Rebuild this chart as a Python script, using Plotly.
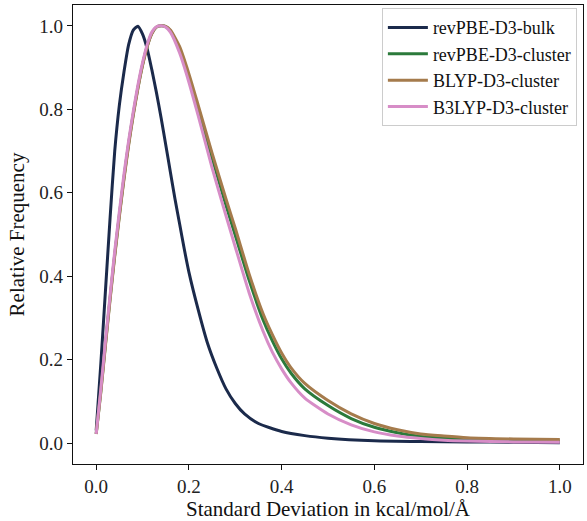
import plotly.graph_objects as go

# ---- data ----
x_bulk = [0.0, 0.01, 0.02, 0.03, 0.04, 0.05, 0.06, 0.07, 0.08, 0.09, 0.10, 0.11, 0.12, 0.13,
          0.14, 0.15, 0.16, 0.17, 0.18, 0.19, 0.20, 0.22, 0.24, 0.26, 0.28, 0.30, 0.32, 0.35, 0.40,
          0.45, 0.50, 0.60, 0.70, 0.80, 0.90, 1.00]
y_bulk = [0.03, 0.19, 0.365, 0.54, 0.70, 0.81, 0.89, 0.955, 0.99, 0.999, 0.98, 0.945, 0.895, 0.84,
          0.78, 0.715, 0.65, 0.585, 0.525, 0.465, 0.41, 0.32, 0.24, 0.18, 0.13, 0.095, 0.07, 0.047, 0.028,
          0.018, 0.012, 0.006, 0.004, 0.003, 0.002, 0.001]

x_clu = [0.0, 0.01, 0.02, 0.03, 0.04, 0.05, 0.06, 0.07, 0.08, 0.09, 0.10, 0.11, 0.12, 0.13,
         0.14, 0.15, 0.16, 0.18, 0.20, 0.22, 0.25, 0.28, 0.30, 0.33, 0.36, 0.38, 0.40, 0.42, 0.45,
         0.50, 0.55, 0.60, 0.65, 0.70, 0.75, 0.80, 0.90, 1.00]
y_revpbe_cluster = [0.022, 0.125, 0.238, 0.348, 0.452, 0.547, 0.637, 0.718, 0.789, 0.852, 0.907, 0.951, 0.982, 0.997,
                    1.0, 0.998, 0.988, 0.945, 0.878, 0.80, 0.683, 0.57, 0.498, 0.39, 0.295, 0.245, 0.202, 0.168, 0.13,
                    0.09, 0.059, 0.038, 0.025, 0.016, 0.012, 0.009, 0.006, 0.005]
y_blyp_cluster = [0.022, 0.122, 0.234, 0.344, 0.448, 0.543, 0.633, 0.714, 0.786, 0.85, 0.905, 0.95, 0.981, 0.997,
                  1.0, 0.999, 0.99, 0.95, 0.885, 0.81, 0.695, 0.585, 0.515, 0.405, 0.31, 0.26, 0.216, 0.181, 0.143,
                  0.102, 0.07, 0.047, 0.032, 0.022, 0.017, 0.013, 0.010, 0.009]
y_b3lyp_cluster = [0.022, 0.13, 0.245, 0.355, 0.46, 0.555, 0.645, 0.725, 0.795, 0.858, 0.912, 0.955, 0.985, 0.998,
                   1.0, 0.997, 0.985, 0.935, 0.865, 0.785, 0.66, 0.545, 0.47, 0.36, 0.268, 0.218, 0.178, 0.145, 0.108,
                   0.07, 0.044, 0.027, 0.017, 0.011, 0.007, 0.005, 0.003, 0.002]

names = ["revPBE-D3-bulk", "revPBE-D3-cluster", "BLYP-D3-cluster", "B3LYP-D3-cluster"]
colors = ["#1b2a4b", "#2b7a3b", "#a57b4c", "#d78dc7"]
series = [(x_bulk, y_bulk), (x_clu, y_revpbe_cluster), (x_clu, y_blyp_cluster), (x_clu, y_b3lyp_cluster)]

x_ticks = [0.0, 0.2, 0.4, 0.6, 0.8, 1.0]
y_ticks = [0.0, 0.2, 0.4, 0.6, 0.8, 1.0]

FONT = "Liberation Serif, Times New Roman, serif"

fig = go.Figure()
for (xs, ys), n, c in zip(series, names, colors):
    fig.add_trace(go.Scatter(x=xs, y=ys, mode="lines", name=n, legendgroup=n,
                             line=dict(color=c, width=3, shape="spline", smoothing=0.6)))

axis_common = dict(showline=True, linecolor="#111", linewidth=1.2, mirror=True,
                   ticks="outside", ticklen=5, tickwidth=1, tickcolor="#111",
                   showgrid=False, zeroline=False, tickfont=dict(size=19, color="#222", family=FONT))

fig.update_xaxes(range=[-0.05, 1.05], tickvals=x_ticks, ticktext=[f"{v:.1f}" for v in x_ticks],
                 title=dict(text="Standard Deviation in kcal/mol/Å", font=dict(size=21, color="#111", family=FONT), standoff=6),
                 **axis_common)
fig.update_yaxes(range=[-0.05, 1.05], tickvals=y_ticks, ticktext=[f"{v:.1f}" for v in y_ticks],
                 title=dict(text="Relative Frequency", font=dict(size=21, color="#111", family=FONT), standoff=8),
                 **axis_common)

fig.update_layout(
    width=587, height=521,
    margin=dict(l=73, r=3, t=5, b=55),
    paper_bgcolor="white", plot_bgcolor="white",
    font=dict(family=FONT, size=18, color="#111"),
    legend=dict(x=0.988, y=0.993, xanchor="right", yanchor="top",
                bgcolor="rgba(255,255,255,0.9)", bordercolor="#cccccc", borderwidth=1,
                font=dict(size=18, family=FONT, color="#111"), tracegroupgap=0, itemwidth=40),
)

fig.write_html("out.html", config={"displayModeBar": False},
               post_script="document.body.style.margin='0';document.body.style.padding='0';")
